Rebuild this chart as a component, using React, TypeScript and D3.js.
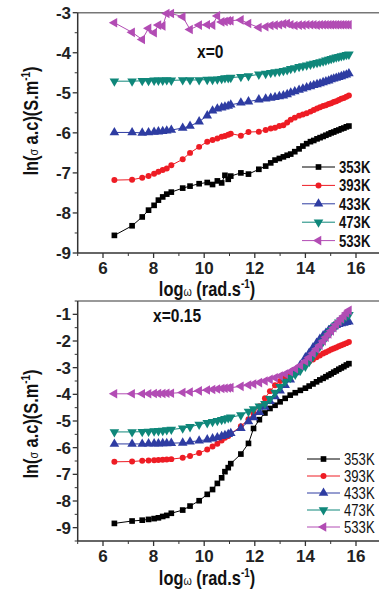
import React from "react";
import * as d3 from "d3";

// frequencies (log omega) for the two panels
const X_TOP = [6.45, 7.15, 7.55, 7.8, 8.02, 8.19, 8.36, 8.52, 8.7, 9.15, 9.44, 9.8, 10.12, 10.33, 10.52, 10.69, 10.82, 10.95, 11.05, 11.45, 11.75, 12.16, 12.43, 12.63, 12.8, 12.97, 13.13, 13.28, 13.42, 13.58, 13.75, 13.9, 14.05, 14.2, 14.33, 14.46, 14.58, 14.7, 14.81, 14.92, 15.02, 15.12, 15.22, 15.32, 15.42, 15.52, 15.62, 15.72];
const X_BOTTOM = [6.45, 7.15, 7.55, 7.8, 8.02, 8.19, 8.36, 8.52, 8.7, 9.15, 9.44, 9.8, 10.12, 10.33, 10.52, 10.69, 10.82, 10.95, 11.05, 11.45, 11.75, 11.95, 12.18, 12.4, 12.6, 12.8, 13.0, 13.2, 13.4, 13.6, 13.8, 14.0, 14.15, 14.3, 14.44, 14.57, 14.7, 14.81, 14.92, 15.02, 15.12, 15.22, 15.32, 15.42, 15.52, 15.62, 15.72];

const LABELS = ["353K", "393K", "433K", "473K", "533K"];
const COLORS = ["#000000", "#ee1c24", "#2e3ca2", "#0f877a", "#b24cb4"];

// x = 0
const TOP_353 = [-8.56, -8.32, -8.1, -7.93, -7.81, -7.68, -7.6, -7.53, -7.48, -7.38, -7.33, -7.27, -7.24, -7.29, -7.2, -7.25, -7.06, -7.16, -7.08, -7.0, -7.03, -6.91, -6.83, -6.75, -6.68, -6.64, -6.6, -6.56, -6.53, -6.47, -6.4, -6.33, -6.27, -6.22, -6.19, -6.15, -6.12, -6.09, -6.06, -6.03, -6.0, -5.98, -5.95, -5.93, -5.9, -5.88, -5.85, -5.83];
const TOP_393 = [-7.18, -7.17, -7.12, -7.08, -7.02, -6.97, -6.93, -6.89, -6.81, -6.66, -6.5, -6.35, -6.22, -6.18, -6.14, -6.1, -6.08, -6.05, -6.02, -6.07, -5.98, -5.97, -5.93, -5.89, -5.87, -5.83, -5.81, -5.74, -5.67, -5.62, -5.57, -5.54, -5.51, -5.47, -5.43, -5.39, -5.36, -5.33, -5.31, -5.28, -5.26, -5.23, -5.21, -5.18, -5.15, -5.13, -5.1, -5.07];
const TOP_433 = [-5.99, -5.99, -6.0, -5.99, -5.98, -5.97, -5.96, -5.95, -5.93, -5.88, -5.83, -5.72, -5.57, -5.45, -5.4, -5.37, -5.35, -5.33, -5.3, -5.25, -5.22, -5.17, -5.15, -5.13, -5.11, -5.09, -5.07, -5.04, -5.0, -4.97, -4.93, -4.9, -4.87, -4.84, -4.81, -4.79, -4.77, -4.74, -4.72, -4.7, -4.67, -4.65, -4.63, -4.61, -4.59, -4.57, -4.55, -4.52];
const TOP_473 = [-4.71, -4.71, -4.7, -4.7, -4.69, -4.69, -4.69, -4.68, -4.69, -4.68, -4.68, -4.68, -4.67, -4.67, -4.66, -4.65, -4.63, -4.63, -4.62, -4.6, -4.58, -4.54, -4.52, -4.5, -4.48, -4.47, -4.45, -4.43, -4.4, -4.38, -4.35, -4.33, -4.31, -4.29, -4.27, -4.25, -4.23, -4.21, -4.19, -4.17, -4.15, -4.13, -4.11, -4.1, -4.08, -4.07, -4.05, -4.04];
const TOP_533 = [-3.25, -3.49, -3.67, -3.39, -3.5, -3.31, -3.33, -3.02, -3.02, -3.1, -3.42, -3.31, -3.3, -3.31, -3.08, -3.23, -3.22, -3.2, -3.2, -3.18, -3.27, -3.37, -3.35, -3.32, -3.31, -3.3, -3.28, -3.27, -3.3, -3.32, -3.31, -3.31, -3.3, -3.3, -3.3, -3.31, -3.3, -3.3, -3.3, -3.3, -3.3, -3.3, -3.3, -3.3, -3.3, -3.3, -3.3, -3.3];

// x = 0.15
const BOT_353 = [-8.84, -8.75, -8.72, -8.69, -8.66, -8.63, -8.58, -8.54, -8.46, -8.34, -8.19, -7.99, -7.75, -7.57, -7.34, -7.13, -6.9, -6.75, -6.6, -6.24, -5.84, -5.28, -4.95, -4.7, -4.53, -4.41, -4.28, -4.15, -4.03, -3.94, -3.85, -3.77, -3.69, -3.61, -3.53, -3.46, -3.4, -3.34, -3.28, -3.23, -3.17, -3.12, -3.06, -3.01, -2.96, -2.9, -2.85];
const BOT_393 = [-6.53, -6.52, -6.49, -6.48, -6.47, -6.46, -6.45, -6.44, -6.43, -6.38, -6.31, -6.2, -6.07, -5.96, -5.85, -5.73, -5.63, -5.56, -5.48, -5.2, -4.93, -4.72, -4.45, -4.15, -3.88, -3.66, -3.5, -3.35, -3.2, -3.08, -2.97, -2.86, -2.77, -2.69, -2.61, -2.54, -2.47, -2.42, -2.37, -2.32, -2.28, -2.24, -2.2, -2.16, -2.12, -2.08, -2.04];
const BOT_433 = [-5.86, -5.86, -5.86, -5.85, -5.85, -5.85, -5.84, -5.84, -5.83, -5.82, -5.78, -5.74, -5.7, -5.66, -5.62, -5.57, -5.54, -5.5, -5.46, -5.27, -5.02, -4.87, -4.67, -4.47, -4.26, -4.08, -3.86, -3.66, -3.45, -3.18, -2.9, -2.62, -2.45, -2.25, -2.08, -1.93, -1.8, -1.7, -1.6, -1.52, -1.46, -1.41, -1.37, -1.34, -1.32, -1.3, -1.28];
const BOT_473 = [-5.41, -5.41, -5.4, -5.39, -5.38, -5.37, -5.36, -5.34, -5.32, -5.27, -5.22, -5.13, -5.07, -5.03, -4.99, -4.95, -4.92, -4.89, -4.86, -4.78, -4.64, -4.55, -4.45, -4.35, -4.17, -3.93, -3.72, -3.52, -3.38, -3.25, -3.1, -2.95, -2.78, -2.58, -2.38, -2.2, -2.02, -1.87, -1.74, -1.62, -1.5, -1.4, -1.3, -1.22, -1.15, -1.08, -1.02];
const BOT_533 = [-3.98, -3.98, -3.98, -3.98, -3.97, -3.97, -3.97, -3.96, -3.96, -3.93, -3.91, -3.87, -3.84, -3.82, -3.8, -3.78, -3.77, -3.76, -3.75, -3.7, -3.65, -3.61, -3.56, -3.5, -3.44, -3.38, -3.31, -3.24, -3.15, -3.04, -2.92, -2.76, -2.62, -2.46, -2.3, -2.16, -2.0, -1.86, -1.74, -1.62, -1.5, -1.38, -1.27, -1.16, -1.06, -0.95, -0.85];

const X_TICKS = [6, 8, 10, 12, 14, 16];
const FONT = "'Liberation Sans', Arial, sans-serif";
const SQUEEZE = 0.82; // narrow-looking bold text

// symbol for each series: square, circle, up, down, left triangle
const symPath = (i: number) => {
  if (i === 0) return d3.symbol(d3.symbolSquare, 32)();
  if (i === 1) return d3.symbol(d3.symbolCircle, 28)();
  return d3.symbol(d3.symbolTriangle, 40)();
};
const symRot = [0, 0, 0, 180, -90];

const Panel = (props: any) => {
  const { xs, series, yDom, top, bottom, yTicks, tag, tagX, tagY, legY, legStep, legX, legBold, titleY, xTitleY } = props;
  const x = d3.scaleLinear().domain([5, 17]).range([77.7, 381.3]);
  const y = d3.scaleLinear().domain(yDom).range([bottom, top]);
  const line = d3.line<number>().x((_, i) => x(xs[i])).y((d) => y(d));
  const yMinor = d3.range(yDom[0], yDom[1] + 0.01, 0.5).filter((v) => !yTicks.includes(v));
  const xMinor = d3.range(5, 17.01, 1).filter((v) => !X_TICKS.includes(v));
  const x0 = x(5);

  return (
    <g>
      {/* frame */}
      <line x1={x0} x2={379} y1={top} y2={top} stroke="#777" strokeWidth={1.5} />
      <line x1={x0} x2={x0} y1={top} y2={bottom} stroke="#333" strokeWidth={1.5} />
      <line x1={x0} x2={379} y1={bottom} y2={bottom} stroke="#333" strokeWidth={1.5} />

      {/* y ticks */}
      {yTicks.map((t: number) => (
        <g key={"y" + t}>
          <line x1={x0 - 5} x2={x0} y1={y(t)} y2={y(t)} stroke="#333" strokeWidth={1.3} />
          <text x={71} y={y(t) + 6} textAnchor="end" fontSize={17} fontWeight="bold" fontFamily={FONT} fill="#222">
            {t}
          </text>
        </g>
      ))}
      {yMinor.map((t: number) => (
        <line key={"ym" + t} x1={x0 - 3} x2={x0} y1={y(t)} y2={y(t)} stroke="#333" strokeWidth={1} />
      ))}

      {/* x ticks */}
      {X_TICKS.map((t) => (
        <g key={"x" + t}>
          <line x1={x(t)} x2={x(t)} y1={bottom} y2={bottom + 5} stroke="#333" strokeWidth={1.3} />
          <text x={x(t)} y={bottom + 21} textAnchor="middle" fontSize={17} fontWeight="bold" fontFamily={FONT} fill="#222">
            {t}
          </text>
        </g>
      ))}
      {xMinor.map((t) => (
        <line key={"xm" + t} x1={x(t)} x2={x(t)} y1={bottom} y2={bottom + 3} stroke="#333" strokeWidth={1} />
      ))}

      {/* series */}
      {series.map((s: number[], si: number) => (
        <g key={"s" + si}>
          <path d={line(s) || ""} fill="none" stroke={COLORS[si]} strokeWidth={1} />
          {s.map((v, i) => (
            <path
              key={i}
              d={symPath(si) || ""}
              fill={COLORS[si]}
              transform={`translate(${x(xs[i])},${y(v)}) rotate(${symRot[si]})`}
            />
          ))}
        </g>
      ))}

      {/* panel tag */}
      <text transform={`translate(${tagX},${tagY}) scale(${SQUEEZE},1)`} fontSize={19} fontWeight="bold" fontFamily={FONT} fill="#111">
        {tag}
      </text>

      {/* legend */}
      {LABELS.map((lab, i) => {
        const ly = legY + i * legStep;
        return (
          <g key={lab}>
            <line x1={legX} x2={legX + 33} y1={ly} y2={ly} stroke={COLORS[i]} strokeWidth={1} />
            <path d={symPath(i) || ""} fill={COLORS[i]} transform={`translate(${legX + 16.5},${ly}) rotate(${symRot[i]})`} />
            <text
              transform={`translate(${legX + 37},${ly + 6}) scale(${SQUEEZE},1)`}
              fontSize={16}
              fontWeight={legBold ? "bold" : "normal"}
              fontFamily={FONT}
              fill="#111"
            >
              {lab}
            </text>
          </g>
        );
      })}

      {/* axis titles */}
      <text
        transform={`translate(38,${titleY}) rotate(-90) scale(${SQUEEZE},1)`}
        textAnchor="middle"
        fontSize={20}
        fontWeight="bold"
        fontFamily={FONT}
        fill="#111"
      >
        ln(<tspan fontSize={13} fontWeight="normal">σ</tspan> a.c)(S.m<tspan fontSize={12} dy={-8}>-1</tspan>
        <tspan dy={8}>)</tspan>
      </text>
      <text
        transform={`translate(207,${xTitleY}) scale(${SQUEEZE},1)`}
        textAnchor="middle"
        fontSize={20}
        fontWeight="bold"
        fontFamily={FONT}
        fill="#111"
      >
        log<tspan fontSize={13} fontWeight="normal">ω</tspan> (rad.s<tspan fontSize={12} dy={-8}>-1</tspan>
        <tspan dy={8}>)</tspan>
      </text>
    </g>
  );
};

export default function App() {
  return (
    <svg width={379} height={592} style={{ position: "absolute", left: 0, top: 0, background: "#fff" }}>
      <Panel
        xs={X_TOP}
        series={[TOP_353, TOP_393, TOP_433, TOP_473, TOP_533]}
        yDom={[-9, -3]}
        top={12.7}
        bottom={253}
        yTicks={[-9, -8, -7, -6, -5, -4, -3]}
        tag="x=0"
        tagX={197}
        tagY={58}
        legX={302}
        legY={167}
        legStep={18.4}
        legBold={true}
        titleY={121}
        xTitleY={296}
      />
      <Panel
        xs={X_BOTTOM}
        series={[BOT_353, BOT_393, BOT_433, BOT_473, BOT_533]}
        yDom={[-9.5, -0.5]}
        top={301}
        bottom={541}
        yTicks={[-9, -8, -7, -6, -5, -4, -3, -2, -1]}
        tag="x=0.15"
        tagX={153}
        tagY={322}
        legX={307}
        legY={459}
        legStep={17}
        legBold={false}
        titleY={424}
        xTitleY={585}
      />
    </svg>
  );
}
